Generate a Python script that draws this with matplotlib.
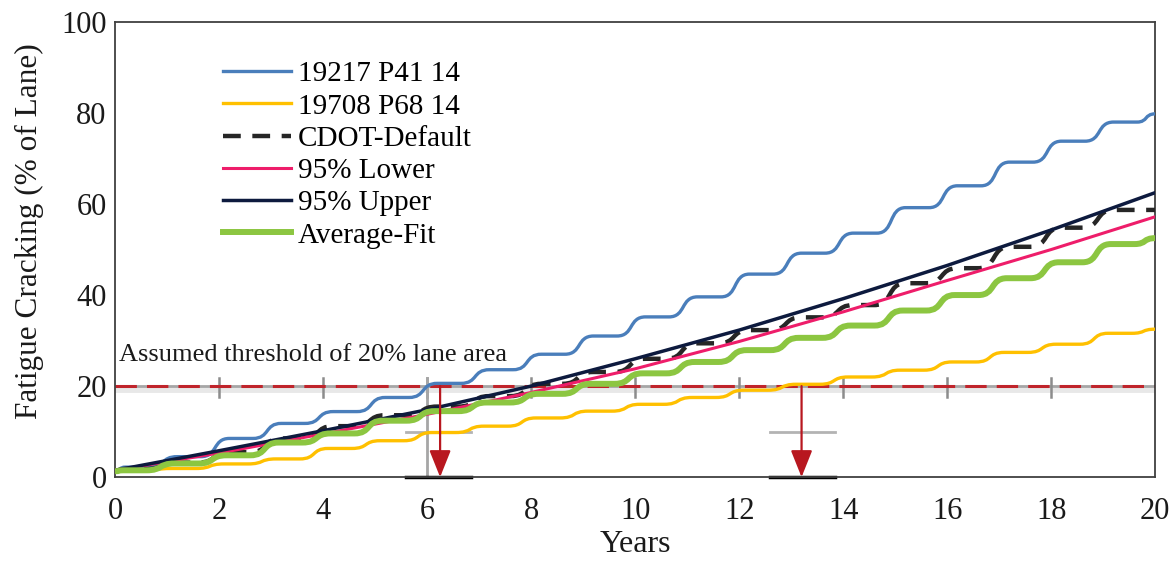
import numpy as np
import matplotlib
matplotlib.use('Agg')
import matplotlib.pyplot as plt
from matplotlib.path import Path
from matplotlib.patches import PathPatch, FancyArrowPatch
from matplotlib.lines import Line2D

plt.rcParams['font.family'] = ['Liberation Serif', 'DejaVu Serif']

# ---------------- data ----------------
x_ticks = [0, 2, 4, 6, 8, 10, 12, 14, 16, 18, 20]
y_ticks = [0, 20, 40, 60, 80, 100]

# yearly plateau values (one per year 0..19) plus start/end values
blue_start = 1.5
blue_plateaus = [2.2, 4.5, 8.5, 11.8, 14.4, 17.5, 20.6, 23.6, 27.0, 31.0,
                 35.2, 39.6, 44.6, 49.2, 53.6, 59.2, 64.0, 69.2, 73.8, 78.0]
blue_end = 79.8

yellow_start = 1.3
yellow_plateaus = [1.5, 1.9, 2.9, 4.0, 6.3, 8.0, 9.8, 11.2, 13.0, 14.5,
                   16.0, 17.5, 19.1, 20.4, 22.0, 23.5, 25.3, 27.4, 29.2, 31.6]
yellow_end = 32.5

cdot_start = 1.5
cdot_plateaus = [1.8, 3.2, 5.5, 8.5, 11.2, 13.6, 15.5, 17.8, 20.5, 23.1,
                 26.0, 29.4, 32.3, 35.1, 37.8, 42.6, 45.9, 50.6, 54.8, 58.7]
cdot_end = 58.7

green_start = 1.3
green_plateaus = [1.5, 3.0, 4.8, 7.6, 9.6, 12.4, 14.5, 16.4, 18.3, 20.5,
                  22.8, 25.3, 27.9, 30.6, 33.3, 36.6, 40.0, 43.7, 47.2, 51.2]
green_end = 52.5

fit_years = [0, 2, 4, 6, 8, 10, 12, 14, 16, 18, 20]
lower95 = [1.5, 5.3, 9.5, 13.8, 18.6, 23.8, 29.8, 36.3, 43.2, 50.0, 57.2]
upper95 = [1.5, 5.8, 10.2, 14.8, 20.0, 26.0, 32.3, 39.2, 46.5, 54.3, 62.5]

threshold = 20
arrow_years = [6.25, 13.2]
marker_ranges = [(5.6, 6.85), (12.6, 13.85)]
marker_level = 10
grid_tick_years = [2, 4, 6, 8, 10, 12, 14, 16, 18]

# ---------------- styling ----------------
C_BLUE = '#4A7EBB'
C_YEL = '#FFC000'
C_CDOT = '#262626'
C_PINK = '#EE1D6A'
C_NAVY = '#0D1A3E'
C_GREEN = '#8CC641'
C_RED = '#C0242B'
TXT = '#1a1a1a'

fig = plt.figure(figsize=(11.74, 5.62), dpi=100)
ax = fig.add_axes([0.098, 0.151, 0.886, 0.810])
ax.set_xlim(0, 20)
ax.set_ylim(0, 100)


def stepped_patch(start, plateaus, end, p0, p1, **kw):
    verts = [(0.0, start)]
    codes = [Path.MOVETO]
    prev = (0.0, start)

    def s_curve(p, q):
        d = (q[0] - p[0]) * 0.6
        verts.extend([(p[0] + d, p[1]), (q[0] - d, q[1]), q])
        codes.extend([Path.CURVE4] * 3)

    for k, v in enumerate(plateaus):
        a = (k + p0, v)
        b = (k + p1, v)
        s_curve(prev, a)
        verts.append(b)
        codes.append(Path.LINETO)
        prev = b
    s_curve(prev, (20.0, end))
    return PathPatch(Path(verts, codes), fill=False, **kw)


# threshold grey line with shadow and small ticks
ax.axhline(threshold - 0.7, color='#BFBFBF', lw=5, alpha=0.35, zorder=1)
ax.axhline(threshold, color='#A6A6A6', lw=2, zorder=1.2)
for gx in grid_tick_years:
    ax.plot([gx, gx], [threshold - 2.4, threshold + 1.8], color='#8C8C8C', lw=1.8, zorder=1.2)
ax.plot([6, 6], [0, threshold + 1.8], color='#A6A6A6', lw=2, zorder=1.2)
for (a, b) in marker_ranges:
    ax.plot([a, b], [marker_level, marker_level], color='#B3B3B3', lw=2, zorder=1.2)
    ax.plot([a, b], [0, 0], color='black', lw=2.5, zorder=1.2, clip_on=False)

ax.axhline(threshold, color=C_RED, lw=2.2, dashes=(7, 3.3), zorder=1.5)

# series
ax.add_patch(stepped_patch(blue_start, blue_plateaus, blue_end, 0.2, 0.65,
                           edgecolor=C_BLUE, lw=2.4, zorder=3))
ax.add_patch(stepped_patch(yellow_start, yellow_plateaus, yellow_end, 0.1, 0.55,
                           edgecolor=C_YEL, lw=2.4, zorder=3))
ax.add_patch(stepped_patch(cdot_start, cdot_plateaus, cdot_end, 0.2, 0.6,
                           edgecolor=C_CDOT, lw=3.2, linestyle=(0, (4.0, 2.6)), zorder=3.2))
ax.plot(fit_years, lower95, color=C_PINK, lw=2.2, zorder=3.3)
ax.plot(fit_years, upper95, color=C_NAVY, lw=2.5, zorder=3.4)
ax.add_patch(stepped_patch(green_start, green_plateaus, green_end, 0.15, 0.6,
                           edgecolor=C_GREEN, lw=4.3, zorder=3.5))

# arrows
for ay in arrow_years:
    arr = FancyArrowPatch((ay, threshold), (ay, 0), arrowstyle='-|>,head_length=0.55,head_width=0.22',
                          mutation_scale=30, color='#B8171F', lw=1.6, zorder=5,
                          shrinkA=0, shrinkB=0)
    ax.add_patch(arr)

ax.text(0.08, 26.8, 'Assumed threshold of 20% lane area', fontsize=19,
        ha='left', va='center', color=TXT, zorder=6)

# legend
handles = [
    Line2D([], [], color=C_BLUE, lw=2.4),
    Line2D([], [], color=C_YEL, lw=2.4),
    Line2D([], [], color=C_CDOT, lw=3.2, linestyle=(0, (4.0, 2.6))),
    Line2D([], [], color=C_PINK, lw=2.2),
    Line2D([], [], color=C_NAVY, lw=2.5),
    Line2D([], [], color=C_GREEN, lw=4.3),
]
labels = ['19217 P41 14', '19708 P68 14', 'CDOT-Default', '95% Lower', '95% Upper', 'Average-Fit']
ax.legend(handles, labels, loc='upper left', bbox_to_anchor=(0.093, 0.94), frameon=False,
          fontsize=21, handlelength=2.3, handletextpad=0.25, labelspacing=0.2,
          borderaxespad=0)

# axes
ax.set_xticks(x_ticks)
ax.set_yticks(y_ticks)
ax.tick_params(axis='x', length=0, labelsize=22, colors=TXT, pad=14)
ax.tick_params(axis='y', length=0, labelsize=22, colors=TXT, pad=6)
for s in ax.spines.values():
    s.set_color('#404040')
    s.set_linewidth(1.3)
ax.set_xlabel('Years', fontsize=23, labelpad=3, color=TXT)
ax.set_ylabel('Fatigue Cracking (% of Lane)', fontsize=22.5, color=TXT)
ax.yaxis.set_label_coords(-0.068, 0.54)

fig.savefig('out.png', dpi=100)
